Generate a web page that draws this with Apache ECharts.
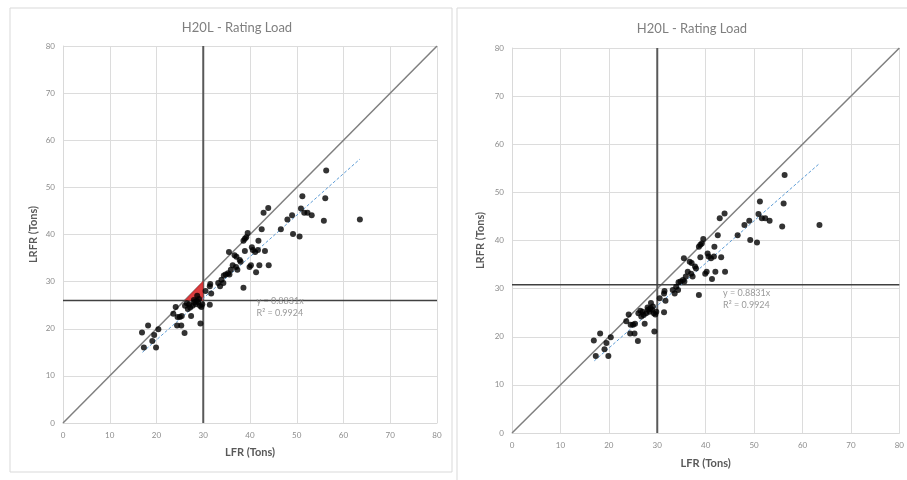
<!DOCTYPE html>
<html><head><meta charset="utf-8">
<script src="https://cdn.jsdelivr.net/npm/echarts@6/dist/echarts.min.js"></script>
<style>html,body{margin:0;padding:0;background:#fff}#c{width:907px;height:480px}</style>
</head><body><div id="c"></div>
<script>
const titleText = 'H20L - Rating Load';
const xName = 'LFR (Tons)';
const yName = 'LRFR (Tons)';
const axisTicks = [0,10,20,30,40,50,60,70,80];
const lfr = [16.9,17.3,18.2,19.1,19.5,19.9,20.4,23.6,24.1,24.4,24.5,25.0,25.3,25.4,26.0,26.1,26.7,27.0,27.4,27.7,28.1,28.4,28.7,28.9,29.3,29.4,29.6,30.5,31.4,31.4,31.5,31.7,33.2,33.6,33.9,34.3,34.4,34.8,35.3,35.5,35.6,35.9,36.3,36.7,37.0,37.1,37.3,37.8,38.0,38.6,38.6,38.9,38.9,39.2,39.5,39.9,40.2,40.4,40.6,41.1,41.3,41.7,41.8,42.0,42.5,42.9,43.2,43.9,44.0,46.6,48.0,49.0,49.2,50.6,50.9,51.2,51.6,52.3,53.2,55.8,56.1,56.3,63.5,26.5,27.2,28.0,28.6,29.1,29.8];
const lrfr = [19.2,16.0,20.7,17.4,18.7,16.0,19.9,23.2,24.6,20.7,22.5,22.5,20.7,22.7,19.1,24.9,24.2,25.2,22.7,24.9,25.6,25.2,27.0,25.6,24.9,21.1,24.6,28.0,25.1,29.0,29.5,27.5,29.7,29.0,30.4,29.7,31.3,31.5,31.8,36.3,31.5,32.5,33.5,35.6,33.1,35.3,32.5,34.6,34.2,28.7,38.7,39.1,36.5,39.4,40.3,33.1,33.5,37.3,36.7,36.3,32.0,36.7,38.7,33.5,41.1,44.6,36.5,45.6,33.5,41.1,43.2,44.1,40.1,39.6,45.5,48.1,44.6,44.6,44.1,42.9,47.7,53.6,43.2,25.4,24.5,26.1,25.9,26.3,25.2];
const diagonal = [[0,0],[80,80]];
const trend = [[17,15.0],[63.5,56.0]];
const vLine = [[30,0],[30,80]];
const hLineLeft = [[0,26],[80,26]];
const hLineRight = [[0,30.8],[80,30.8]];
const redTriangle = [[26,26],[30,30.2],[30,26]];
const eqText = 'y = 0.8831x\nR² = 0.9924';
const eqPosLeft = [41.4, 24.7];
const eqPosRight = [43.6, 27.9];

const FONT = 'Lato';
const pts = lfr.map((v,i)=>[v, lrfr[i]]);

function axis(type, idx, nameGap){
  return {
    type:'value', gridIndex: idx, min:0, max:80, interval:10,
    name: type==='x'?xName:yName, nameLocation:'middle', nameGap: nameGap,
    nameTextStyle:{fontFamily:FONT, fontWeight:'bold', fontSize:11, color:'#595959'},
    axisLine:{show:true, lineStyle:{color:'#d9d9d9', width:1}},
    axisTick:{show:false},
    axisLabel:{fontFamily:FONT, fontSize:8, color:'#8c8c8c', margin:8,
      formatter: v => axisTicks.includes(v) ? String(v) : ''},
    splitLine:{show:true, lineStyle:{color:'#dcdcdc', width:1}}
  };
}

function seriesFor(idx, hLine, eqPos, withTri){
  const s = [];
  s.push({type:'line', xAxisIndex:idx, yAxisIndex:idx, data:diagonal, symbol:'none', silent:true,
    lineStyle:{color:'#7f7f7f', width:1.5}, z:2});
  s.push({type:'line', xAxisIndex:idx, yAxisIndex:idx, data:vLine, symbol:'none', silent:true,
    lineStyle:{color:'#595959', width:2}, z:2});
  s.push({type:'line', xAxisIndex:idx, yAxisIndex:idx, data:hLine, symbol:'none', silent:true,
    lineStyle:{color:'#404040', width:1.5}, z:2});
  if (withTri) {
    s.push({type:'custom', xAxisIndex:idx, yAxisIndex:idx, data:[0], silent:true, z:3,
      renderItem:(params, api)=>({type:'polygon',
        shape:{points: redTriangle.map(p=>api.coord(p))},
        style:{fill:'#d9282a', opacity:0.9}})});
  }
  s.push({type:'line', xAxisIndex:idx, yAxisIndex:idx, data:trend, symbol:'none', silent:true,
    lineStyle:{color:'#5b9bd5', width:1, type:[3,2]}, z:4});
  s.push({type:'scatter', xAxisIndex:idx, yAxisIndex:idx, data:pts, symbolSize:6,
    itemStyle:{color:'#000'}, z:5});
  s.push({type:'scatter', xAxisIndex:idx, yAxisIndex:idx, data:[eqPos], symbolSize:0, silent:true, z:6,
    label:{show:true, position:'right', distance:0, formatter:eqText, fontFamily:FONT,
      fontSize:9, lineHeight:12, color:'#7f7f7f'}});
  return s;
}

const chart = echarts.init(document.getElementById('c'), null, {renderer:'canvas'});
chart.setOption({
  animation:false,
  backgroundColor:'#fff',
  graphic:[
    {type:'rect', shape:{x:10, y:8, width:442, height:464}, style:{fill:'none', stroke:'#d9d9d9', lineWidth:1}, z:-1},
    {type:'rect', shape:{x:457, y:8, width:460, height:480}, style:{fill:'none', stroke:'#d9d9d9', lineWidth:1}, z:-1}
  ],
  title:[
    {text:titleText, left:232, top:16, textAlign:'center', textStyle:{fontFamily:FONT, fontSize:13, fontWeight:'normal', color:'#7f7f7f'}},
    {text:titleText, left:687, top:17, textAlign:'center', textStyle:{fontFamily:FONT, fontSize:13, fontWeight:'normal', color:'#7f7f7f'}}
  ],
  grid:[
    {left:63, right:470, top:46, bottom:57},
    {left:512, right:7, top:48, bottom:47}
  ],
  xAxis:[axis('x',0,24), axis('x',1,25)],
  yAxis:[axis('y',0,24), axis('y',1,26)],
  series:[].concat(seriesFor(0, hLineLeft, eqPosLeft, true), seriesFor(1, hLineRight, eqPosRight, false))
});
</script></body></html>
